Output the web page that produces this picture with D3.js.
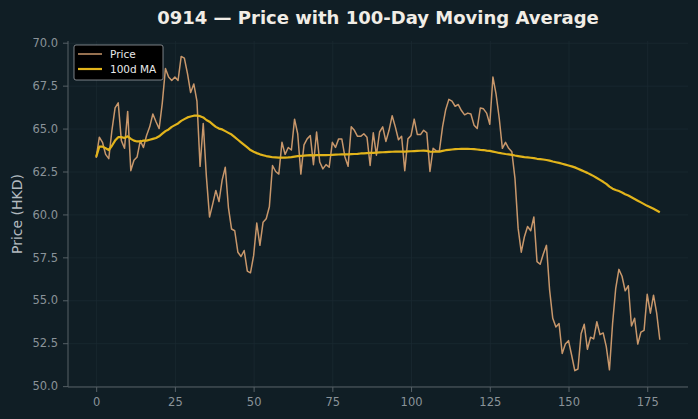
<!DOCTYPE html>
<html>
<head>
<meta charset="utf-8">
<script src="https://cdn.jsdelivr.net/npm/d3@7"></script>
<style>
  body { margin: 0; background: #101e25; }
  svg { display: block; font-family: "DejaVu Sans", sans-serif; }
  .axis text { fill: #8a9399; font-size: 11.5px; font-family: "DejaVu Sans", sans-serif; }
  .axis path, .axis line { stroke: #566066; }
  .grid line { stroke: #1b2a31; stroke-width: 0.8; }
  .grid path { display: none; }
</style>
</head>
<body>
<svg id="chart" width="698" height="419"></svg>
<script>
// daily closing price, index 0..179
const price = [
  63.3, 64.5, 64.2, 63.5, 63.25, 64.9, 66.2, 66.5, 64.3, 63.85,
  66.0, 62.55, 63.15, 63.35, 64.3, 63.9, 64.6, 65.1, 65.85, 65.4,
  65.0, 66.5, 68.5, 68.0, 67.8, 68.0, 67.8, 69.2, 69.1, 68.2,
  67.1, 67.6, 66.6, 62.8, 65.3, 62.2, 59.85, 60.6, 61.4, 60.75,
  62.0, 62.75, 60.4, 59.15, 59.05, 57.8, 57.55, 57.9, 56.7, 56.6,
  57.6, 59.5, 58.2, 59.55, 59.75, 60.45, 62.85, 62.5, 62.35, 64.2,
  63.5, 63.9, 63.75, 65.55, 64.7, 62.35, 64.05, 64.4, 64.6, 62.9,
  64.8, 63.05, 62.65, 62.9, 62.75, 64.2, 63.9, 64.4, 64.4, 63.35,
  62.8, 65.1, 64.9, 64.55, 64.55, 64.7, 64.5, 62.85, 64.75, 63.45,
  64.8, 65.1, 64.25, 64.9, 65.75, 65.1, 64.35, 64.55, 62.55, 64.4,
  64.6, 65.55, 64.65, 64.65, 64.9, 64.75, 62.5, 63.85, 63.7, 63.7,
  65.1, 66.1, 66.7, 66.6, 66.3, 66.4, 66.05, 65.8, 65.9, 65.85,
  65.2, 65.0, 66.2, 66.15, 65.9, 65.25, 68.0, 67.0, 65.6, 63.85,
  64.2, 63.85, 63.65, 62.1, 59.2, 57.8, 58.7, 59.3, 59.05, 59.85,
  57.25, 57.1, 57.7, 58.2, 55.6, 53.95, 53.45, 53.65, 51.9, 52.45,
  52.65, 51.8, 50.9, 51.0, 53.05, 53.6, 52.15, 52.85, 52.75, 53.75,
  53.0, 53.1, 52.3, 50.95, 53.65, 55.7, 56.8, 56.4, 55.55, 55.85,
  53.5, 53.95, 52.45, 53.15, 53.25, 55.35, 54.25, 55.3, 54.25, 52.7
];

// 100-day moving average as drawn
const ma100 = [
  63.35, 63.95, 63.95, 63.85, 63.75, 64.0, 64.3, 64.5, 64.5, 64.45,
  64.55, 64.4, 64.3, 64.25, 64.25, 64.3, 64.3, 64.35, 64.4, 64.45,
  64.55, 64.7, 64.85, 64.95, 65.1, 65.2, 65.3, 65.45, 65.55, 65.65,
  65.7, 65.75, 65.75, 65.72, 65.65, 65.5, 65.4, 65.25, 65.1, 65.0,
  64.95, 64.85, 64.75, 64.65, 64.5, 64.35, 64.2, 64.05, 63.9, 63.75,
  63.65, 63.57, 63.5, 63.45, 63.4, 63.37, 63.33, 63.32, 63.31, 63.31,
  63.31, 63.32, 63.34, 63.37, 63.4, 63.41, 63.42, 63.44, 63.45, 63.44,
  63.45, 63.45, 63.45, 63.45, 63.46, 63.47, 63.48, 63.49, 63.5, 63.5,
  63.5, 63.51, 63.52, 63.53, 63.55, 63.56, 63.57, 63.58, 63.59, 63.6,
  63.61, 63.62, 63.63, 63.64, 63.65, 63.66, 63.66, 63.66, 63.66, 63.67,
  63.68, 63.69, 63.7, 63.71, 63.72, 63.7, 63.66, 63.65, 63.65, 63.66,
  63.7, 63.74, 63.76, 63.78, 63.8, 63.81, 63.82, 63.82, 63.82, 63.81,
  63.8, 63.78, 63.76, 63.75, 63.72, 63.7, 63.66, 63.62, 63.58, 63.55,
  63.52, 63.5, 63.47, 63.43, 63.4, 63.37, 63.34, 63.32, 63.3, 63.28,
  63.24, 63.22, 63.2, 63.17, 63.13, 63.08, 63.04, 63.0, 62.95, 62.9,
  62.85, 62.8, 62.74, 62.66, 62.58, 62.5, 62.42, 62.33, 62.23, 62.12,
  62.01, 61.9, 61.78, 61.62, 61.5, 61.42, 61.36, 61.28, 61.18, 61.1,
  61.0, 60.9, 60.8, 60.7, 60.6, 60.5, 60.42, 60.33, 60.23, 60.13
];

const xTicks = [0, 25, 50, 75, 100, 125, 150, 175];
const yTicks = [50, 52.5, 55, 57.5, 60, 62.5, 65, 67.5, 70];
const seriesNames = ["Price", "100d MA"];
const seriesColors = ["#c8976b", "#e2b41b"];

const svg = d3.select("#chart");
const mLeft = 68, mRight = 688, mTop = 41, mBottom = 387;

const xScale = d3.scaleLinear().domain([-8.95, 187.95]).range([mLeft, mRight]);
const yScale = d3.scaleLinear().domain([49.95, 70.1]).range([mBottom, mTop]);

// grid
svg.append("g").attr("class", "grid")
  .attr("transform", `translate(0,${mBottom})`)
  .call(d3.axisBottom(xScale).tickValues(xTicks).tickSize(-(mBottom - mTop)).tickFormat(""));
svg.append("g").attr("class", "grid")
  .attr("transform", `translate(${mLeft},0)`)
  .call(d3.axisLeft(yScale).tickValues(yTicks).tickSize(-(mRight - mLeft)).tickFormat(""));

// axes
const xAxis = svg.append("g").attr("class", "axis")
  .attr("transform", `translate(0,${mBottom})`)
  .call(d3.axisBottom(xScale).tickValues(xTicks).tickSize(5).tickPadding(6));
const yAxis = svg.append("g").attr("class", "axis")
  .attr("transform", `translate(${mLeft},0)`)
  .call(d3.axisLeft(yScale).tickValues(yTicks).tickSize(5).tickPadding(5).tickFormat(d3.format(".1f")));
xAxis.select(".domain").attr("d", `M${mLeft},0H${mRight}`);
yAxis.select(".domain").attr("d", `M0,${mBottom}V${mTop}`);

// lines
const line = d3.line().x((d, i) => xScale(i)).y(d => yScale(d));
svg.append("path").datum(price)
  .attr("fill", "none").attr("stroke", seriesColors[0])
  .attr("stroke-width", 1.5).attr("stroke-linejoin", "round")
  .attr("d", line);
svg.append("path").datum(ma100)
  .attr("fill", "none").attr("stroke", seriesColors[1])
  .attr("stroke-width", 2.2).attr("stroke-linejoin", "round")
  .attr("d", line);

// title and label
svg.append("text")
  .attr("x", 378).attr("y", 24)
  .attr("text-anchor", "middle")
  .attr("fill", "#f1ede6")
  .attr("font-size", 18).attr("font-weight", "bold")
  .text("0914 \u2014 Price with 100-Day Moving Average");

svg.append("text")
  .attr("transform", `translate(22,${(mTop + mBottom) / 2}) rotate(-90)`)
  .attr("text-anchor", "middle")
  .attr("fill", "#b4bbc0")
  .attr("font-size", 14)
  .text("Price (HKD)");

// legend
const lg = svg.append("g").attr("transform", "translate(74,45)");
lg.append("rect")
  .attr("width", 89).attr("height", 35).attr("rx", 2)
  .attr("fill", "#000").attr("stroke", "#9aa0a4").attr("stroke-width", 0.8);
seriesNames.forEach((name, i) => {
  const row = lg.append("g").attr("transform", `translate(0,${9 + i * 15})`);
  row.append("line")
    .attr("x1", 4).attr("x2", 28)
    .attr("stroke", seriesColors[i]).attr("stroke-width", i === 0 ? 1.5 : 2.2);
  row.append("text")
    .attr("x", 36).attr("dy", "0.35em")
    .attr("fill", "#e8eaeb").attr("font-size", 10.5)
    .text(name);
});
</script>
</body>
</html>
